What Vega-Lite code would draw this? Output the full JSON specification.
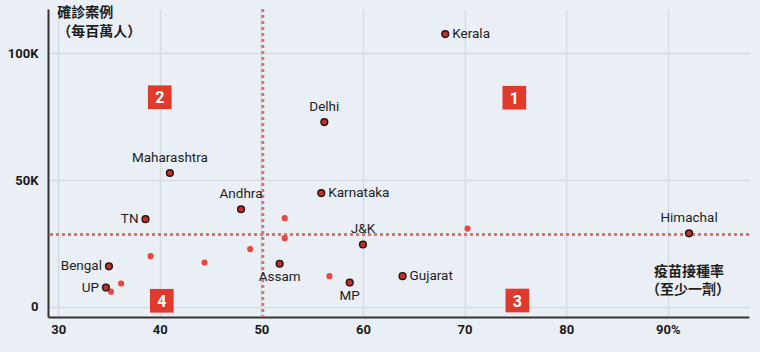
{
  "$schema": "https://vega.github.io/schema/vega-lite/v6.json",
  "autosize": "none",
  "width": 701,
  "height": 308,
  "padding": {"left": 48, "top": 9, "right": 11, "bottom": 35},
  "background": "#eaeff6",
  "config": {
    "view": {"stroke": null},
    "font": "Roboto",
    "axis": {"labelFont": "Roboto", "labelFontWeight": "bold", "labelFontSize": 13, "labelColor": "#1a1a1a", "gridColor": "#d6dce5", "gridWidth": 1.5, "domainColor": "#333333", "domainWidth": 2, "ticks": false, "title": null}
  },
  "datasets": {
    "states": [
      {"state": "Kerala", "vax": 68.1, "cases": 107600, "kind": "labeled"},
      {"state": "Delhi", "vax": 56.2, "cases": 72900, "kind": "labeled"},
      {"state": "Maharashtra", "vax": 41.0, "cases": 52800, "kind": "labeled"},
      {"state": "Andhra", "vax": 48.0, "cases": 38500, "kind": "labeled"},
      {"state": "Karnataka", "vax": 55.9, "cases": 44900, "kind": "labeled"},
      {"state": "TN", "vax": 38.6, "cases": 34600, "kind": "labeled"},
      {"state": "J&K", "vax": 60.0, "cases": 24600, "kind": "labeled"},
      {"state": "Himachal", "vax": 92.1, "cases": 29000, "kind": "labeled"},
      {"state": "Bengal", "vax": 35.0, "cases": 16000, "kind": "labeled"},
      {"state": "UP", "vax": 34.7, "cases": 7600, "kind": "labeled"},
      {"state": "Assam", "vax": 51.8, "cases": 17000, "kind": "labeled"},
      {"state": "MP", "vax": 58.7, "cases": 9600, "kind": "labeled"},
      {"state": "Gujarat", "vax": 63.9, "cases": 12100, "kind": "labeled"},
      {"state": "", "vax": 39.1, "cases": 20000, "kind": "other"},
      {"state": "", "vax": 44.4, "cases": 17500, "kind": "other"},
      {"state": "", "vax": 36.2, "cases": 9200, "kind": "other"},
      {"state": "", "vax": 35.2, "cases": 6000, "kind": "other"},
      {"state": "", "vax": 48.9, "cases": 22800, "kind": "other"},
      {"state": "", "vax": 52.3, "cases": 35000, "kind": "other"},
      {"state": "", "vax": 52.3, "cases": 27100, "kind": "other"},
      {"state": "", "vax": 56.7, "cases": 12100, "kind": "other"},
      {"state": "", "vax": 70.3, "cases": 30900, "kind": "other"}
    ],
    "quadrants": [
      {"q": "1", "vax": 74.9, "cases": 82500},
      {"q": "2", "vax": 40.0, "cases": 82700},
      {"q": "3", "vax": 75.2, "cases": 2500},
      {"q": "4", "vax": 40.2, "cases": 2400}
    ],
    "refs": [{"vax": 50.14, "cases": 28570}],
    "ytitle": [
      {"t": "確診案例", "vax": 29.92, "cases": 115800},
      {"t": "（每百萬人）", "vax": 29.92, "cases": 108300}
    ],
    "xtitle": [
      {"t": "疫苗接種率", "vax": 92.1, "cases": 13800},
      {"t": "（至少一劑）", "vax": 92.0, "cases": 6500}
    ]
  },
  "encoding": {
    "x": {"field": "vax", "type": "quantitative", "scale": {"domain": [29, 98], "nice": false, "zero": false},
      "axis": {"values": [30, 40, 50, 60, 70, 80, 90], "labelPadding": 6, "labelExpr": "datum.value == 90 ? '90%' : datum.label"}},
    "y": {"field": "cases", "type": "quantitative", "scale": {"domain": [-4000, 117500], "nice": false, "zero": false},
      "axis": {"values": [0, 50000, 100000], "labelPadding": 10, "labelExpr": "datum.value == 0 ? '0' : (datum.value / 1000) + 'K'"}}
  },
  "layer": [
    {"data": {"name": "refs"}, "mark": {"type": "rule", "color": "#dc7570", "strokeWidth": 3, "strokeDash": [3, 3]}, "encoding": {"x": {"field": "vax", "type": "quantitative"}, "y": null}},
    {"data": {"name": "refs"}, "mark": {"type": "rule", "color": "#dc7570", "strokeWidth": 3, "strokeDash": [3, 3]}, "encoding": {"y": {"field": "cases", "type": "quantitative"}, "x": null}},
    {"data": {"name": "states"}, "transform": [{"filter": "datum.kind == 'other'"}],
      "mark": {"type": "circle", "size": 38, "color": "#e8473e", "opacity": 1}},
    {"data": {"name": "states"}, "transform": [{"filter": "datum.kind == 'labeled'"}],
      "mark": {"type": "point", "shape": "circle", "filled": true, "size": 45, "fill": "#c2302a", "stroke": "#2a1414", "strokeWidth": 1.5, "opacity": 1}},
    {"data": {"name": "states"}, "transform": [{"filter": "indexof(['Kerala','Karnataka','Gujarat'], datum.state) >= 0"}],
      "mark": {"type": "text", "align": "left", "baseline": "middle", "dx": 7, "fontSize": 13.5, "color": "#1e1e1e"},
      "encoding": {"text": {"field": "state"}}},
    {"data": {"name": "states"}, "transform": [{"filter": "indexof(['TN','Bengal','UP'], datum.state) >= 0"}],
      "mark": {"type": "text", "align": "right", "baseline": "middle", "dx": -7, "fontSize": 13.5, "color": "#1e1e1e"},
      "encoding": {"text": {"field": "state"}}},
    {"data": {"name": "states"}, "transform": [{"filter": "indexof(['Delhi','Maharashtra','Andhra','J&K','Himachal'], datum.state) >= 0"}],
      "mark": {"type": "text", "align": "center", "baseline": "middle", "dy": -15, "fontSize": 13.5, "color": "#1e1e1e"},
      "encoding": {"text": {"field": "state"}}},
    {"data": {"name": "states"}, "transform": [{"filter": "indexof(['Assam','MP'], datum.state) >= 0"}],
      "mark": {"type": "text", "align": "center", "baseline": "middle", "dy": 13, "fontSize": 13.5, "color": "#1e1e1e"},
      "encoding": {"text": {"field": "state"}}},
    {"data": {"name": "quadrants"}, "mark": {"type": "square", "size": 560, "color": "#e03a2d", "opacity": 1}},
    {"data": {"name": "quadrants"}, "mark": {"type": "text", "align": "center", "baseline": "middle", "fontSize": 16, "fontWeight": "bold", "color": "white", "dy": 1},
      "encoding": {"text": {"field": "q"}}},
    {"data": {"name": "ytitle"}, "mark": {"type": "text", "align": "left", "baseline": "middle", "font": "Noto Sans CJK TC", "fontSize": 14, "fontWeight": "bold", "color": "#1e1e1e"},
      "encoding": {"text": {"field": "t"}}},
    {"data": {"name": "xtitle"}, "mark": {"type": "text", "align": "center", "baseline": "middle", "font": "Noto Sans CJK TC", "fontSize": 14, "fontWeight": "bold", "color": "#1e1e1e"},
      "encoding": {"text": {"field": "t"}}}
  ]
}
